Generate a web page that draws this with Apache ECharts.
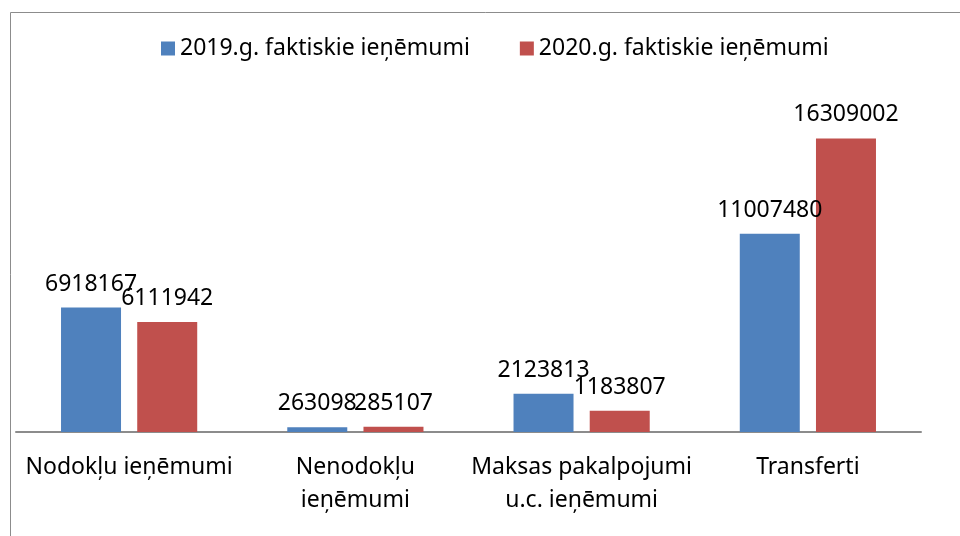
<!DOCTYPE html>
<html>
<head>
<meta charset="UTF-8">
<title>Ieņēmumi</title>
<script src="https://cdn.jsdelivr.net/npm/echarts@6/dist/echarts.min.js"></script>
<style>
  html, body { margin: 0; padding: 0; background: #fff; }
  #main { width: 960px; height: 536px; }
</style>
</head>
<body>
<div id="main"></div>
<script type="text/javascript">
var categories = ['Nodokļu ieņēmumi', 'Nenodokļu\nieņēmumi', 'Maksas pakalpojumi\nu.c. ieņēmumi', 'Transferti'];
var seriesNames = ['2019.g. faktiskie ieņēmumi', '2020.g. faktiskie ieņēmumi'];
var values2019 = [6918167, 263098, 2123813, 11007480];
var values2020 = [6111942, 285107, 1183807, 16309002];

var font = 'Noto Sans';
var fs = 23;
var myChart = echarts.init(document.getElementById('main'));

var option = {
  animation: false,
  textStyle: { fontFamily: font },
  graphic: [{
    type: 'rect',
    shape: { x: 10.5, y: 12.5, width: 1000, height: 600 },
    style: { fill: 'none', stroke: '#8c8c8c', lineWidth: 1 }
  }],
  legend: {
    data: seriesNames,
    top: 32,
    left: 156,
    itemWidth: 14,
    itemHeight: 14,
    itemGap: 50,
    icon: 'rect',
    textStyle: { fontSize: fs, color: '#000', fontFamily: font }
  },
  grid: { left: 16, right: 39, top: 108, bottom: 104 },
  xAxis: {
    type: 'category',
    data: categories,
    axisLine: { lineStyle: { color: '#8c8c8c', width: 2 } },
    axisTick: { show: false },
    axisLabel: { fontSize: fs, color: '#000', lineHeight: 33, margin: 19, interval: 0, fontFamily: font }
  },
  yAxis: {
    type: 'value',
    min: 0,
    max: 18000000,
    show: false,
    splitLine: { show: false }
  },
  series: [{
    name: seriesNames[0],
    type: 'bar',
    data: values2019,
    barWidth: 60,
    barGap: '27%',
    itemStyle: { color: '#4F81BD' },
    label: { show: true, position: 'top', distance: 12, fontSize: fs, color: '#000', fontFamily: font }
  }, {
    name: seriesNames[1],
    type: 'bar',
    data: values2020,
    barWidth: 60,
    itemStyle: { color: '#C0504D' },
    label: { show: true, position: 'top', distance: 12, fontSize: fs, color: '#000', fontFamily: font }
  }]
};
myChart.setOption(option);
</script>
</body>
</html>
